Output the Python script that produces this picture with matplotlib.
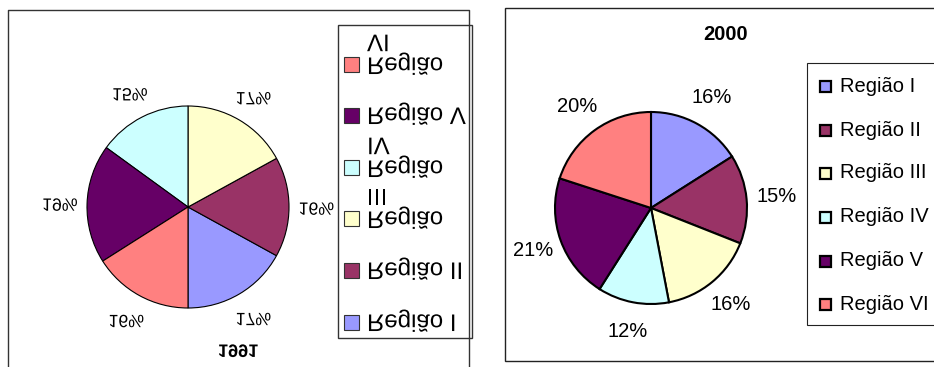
import matplotlib
matplotlib.use("Agg")
import matplotlib.pyplot as plt
from matplotlib.patches import Rectangle
from matplotlib.patheffects import AbstractPathEffect
from matplotlib.transforms import Affine2D

plt.rcParams['font.family'] = ['Liberation Sans', 'DejaVu Sans']

regions = ["Região I", "Região II", "Região III", "Região IV", "Região V", "Região VI"]
# the narrow 1991 legend wraps some of the names
regions_1991 = ["Região I", "Região II", "Região\nIII", "Região\nIV", "Região V", "Região\nVI"]
colors = ["#9999FF", "#993366", "#FFFFCC", "#CCFFFF", "#660066", "#FF8080"]
share_1991 = [17, 16, 17, 15, 19, 16]
share_2000 = [16, 15, 16, 12, 21, 20]
title_1991 = "1991"
title_2000 = "2000"


class Mirror(AbstractPathEffect):
    """Flip whatever it draws upside down about the figure's middle line."""

    def __init__(self, fig):
        super().__init__()
        self.fig = fig

    def draw_path(self, renderer, gc, tpath, affine, rgbFace=None):
        yc = self.fig.bbox.height / 2
        flip = Affine2D().translate(0, -yc).scale(1, -1).translate(0, yc)
        renderer.draw_path(gc, tpath, affine + flip, rgbFace)


def main():
    fig = plt.figure(figsize=(9.34, 3.67), dpi=100)
    ax = fig.add_axes([0, 0, 1, 1])
    H = 367
    flip = Mirror(fig)
    mirrored = []

    # ---- 1991 (the scanned chart came out upside down) ----
    wedges1, _, pct1 = ax.pie(share_1991, colors=colors, startangle=90, counterclock=False,
                              center=(188, 207), radius=101, autopct='%.0f%%', pctdistance=1.27,
                              wedgeprops=dict(edgecolor='black', linewidth=0.8),
                              textprops=dict(fontsize=12.8))
    mirrored += list(wedges1) + list(pct1)
    mirrored.append(ax.text(238, 349, title_1991, fontsize=13, fontweight='bold',
                            ha='center', va='center'))
    mirrored.append(ax.add_patch(Rectangle((338, 25), 134, 313, facecolor='white',
                                           edgecolor='#333333', linewidth=1)))
    row_y = [322, 270, 218, 167, 115, 64]
    for name, col, y in zip(regions_1991, colors, row_y):
        mirrored.append(ax.add_patch(Rectangle((344, y - 7.5), 15, 15, facecolor=col,
                                               edgecolor='#333333', linewidth=0.8)))
        ty = y - 9 if "\n" in name else y + 1
        mirrored.append(ax.text(367, ty, name, fontsize=17.3, ha='left',
                                va='center_baseline', linespacing=1.05))
    for art in mirrored:
        art.set_path_effects([flip])
        art.set_clip_on(False)
    ax.plot([8, 8, 469, 469], [-5, H - 10, H - 10, -5], color='#333333', linewidth=1, clip_on=False)

    # ---- 2000 ----
    ax.add_patch(Rectangle((505, H - 361), 440, 353, facecolor='white',
                           edgecolor='#222222', linewidth=1, zorder=0, clip_on=False))
    ax.pie(share_2000, colors=colors, startangle=90, counterclock=False,
           center=(651, H - 208), radius=96, autopct='%.0f%%', pctdistance=1.31,
           wedgeprops=dict(edgecolor='black', linewidth=1.5),
           textprops=dict(fontsize=14.5))
    ax.text(726, H - 34, title_2000, fontsize=14.5, fontweight='bold', ha='center', va='center')
    ax.add_patch(Rectangle((807, H - 325), 140, 262, facecolor='white',
                           edgecolor='#222222', linewidth=0.8, clip_on=False))
    rows_2000 = [86, 130, 173, 217, 261, 304]
    for name, col, r in zip(regions, colors, rows_2000):
        ax.add_patch(Rectangle((820, H - r - 5.5), 11, 11, facecolor=col,
                               edgecolor='black', linewidth=1.6))
        ax.text(840, H - r, name, fontsize=14.5, ha='left', va='center')

    ax.set_xlim(0, 934)
    ax.set_ylim(0, H)
    ax.set_aspect('auto')
    ax.axis('off')
    fig.savefig("out.png", dpi=100)


if __name__ == '__main__':
    main()
